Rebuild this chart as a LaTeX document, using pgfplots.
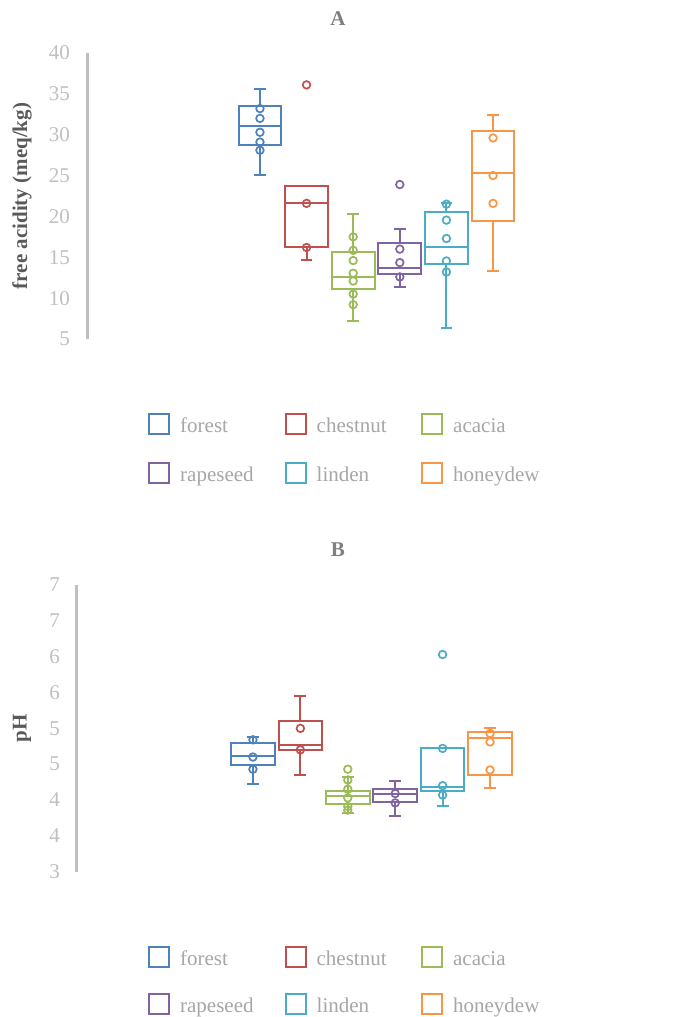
\documentclass[border=0pt]{standalone}
\usepackage{fontspec}
\setmainfont{Liberation Serif}
\usepackage{pgfplots}
\pgfplotsset{compat=1.18}
\usepgfplotslibrary{statistics}
\definecolor{c1}{HTML}{4F81BD}
\definecolor{c2}{HTML}{C0504D}
\definecolor{c3}{HTML}{9BBB59}
\definecolor{c4}{HTML}{8064A2}
\definecolor{c5}{HTML}{4BACC6}
\definecolor{c6}{HTML}{F79646}
\definecolor{tickgray}{HTML}{BFBFBF}
\definecolor{leggray}{HTML}{A6A6A6}
\definecolor{labgray}{HTML}{595959}
\definecolor{titlegray}{HTML}{7F7F7F}
\newcommand{\lt}[1]{\makebox[104.5pt][l]{\rule{0pt}{19pt}\smash{#1}}}
\pgfplotsset{
  mybox/.style n args={6}{boxplot prepared={draw position=#1, lower whisker=#2, lower quartile=#3, median=#4, upper quartile=#5, upper whisker=#6, box extend=0.92, whisker extend=0.25, every box/.style={line width=2pt}, every whisker/.style={line width=2pt}, every median/.style={line width=2pt}}, line width=2pt, solid, fill=none, forget plot},
  mypts/.style={only marks, mark=o, mark size=3.8pt, line width=1.7pt, mark options={line width=1.7pt, solid}, forget plot},
  myaxis/.style={scale only axis, axis x line=none, axis y line*=left,
    boxplot/draw direction=y,
    y axis line style={draw=tickgray, line width=3pt, -},
    ytick style={draw=none},
    yticklabel style={text=tickgray, anchor=east, inner sep=0pt, xshift=-17pt},
    xmin=-2.71, xmax=9.71, xtick=\empty, clip=false,
    /pgf/number format/assume math mode=true,
    title style={anchor=center, text=titlegray, font=\bfseries},
    ylabel style={anchor=center, font=\bfseries, text=labgray},
    legend image code/.code={\draw[##1, fill=none, line width=2pt] (0pt,-10pt) rectangle (20pt,10pt);},
    legend cell align=left,
    legend style={draw=none, fill=none, legend columns=3, inner sep=0pt,
      nodes={inner sep=0pt, text=leggray, anchor=west},
      /tikz/every odd column/.append style={column sep=10pt}},
  }
}
\begin{document}
\fontsize{21}{25}\selectfont
\begin{tikzpicture}
\useasboundingbox (0,0) rectangle (696pt,-1017pt);
% ---------------- A ----------------
\begin{axis}[myaxis, at={(87pt,-339pt)}, anchor=south west, width=579pt, height=286pt,
  ymin=5, ymax=40, ytick={5,10,...,40},
  title={A}, title style={at={(axis description cs:0.4335,1.101)}},
  ylabel={free acidity (meq/kg)}, ylabel style={at={(axis description cs:-0.1123,0.5)}},
  legend style={at={(axis description cs:0.1054,-0.2587)}, anchor=north west, row sep=27pt}]
\addlegendimage{c1}\addlegendentry{\lt{forest}}
\addlegendimage{c2}\addlegendentry{\lt{chestnut}}
\addlegendimage{c3}\addlegendentry{\lt{acacia}}
\addlegendimage{c4}\addlegendentry{\lt{rapeseed}}
\addlegendimage{c5}\addlegendentry{\lt{linden}}
\addlegendimage{c6}\addlegendentry{\lt{honeydew}}
\addplot[c1, mybox={1}{25.1}{28.7}{31.1}{33.5}{35.6}] coordinates {};
\addplot[c1, mypts] coordinates {(1,33.2) (1,32.0) (1,30.3) (1,29.1) (1,28.1)};
\addplot[c2, mybox={2}{14.7}{16.2}{21.6}{23.7}{23.7}] coordinates {};
\addplot[c2, mypts] coordinates {(2,21.6) (2,16.2) (2,36.1)};
\addplot[c3, mybox={3}{7.2}{11.1}{12.6}{15.7}{20.3}] coordinates {};
\addplot[c3, mypts] coordinates {(3,17.5) (3,15.85) (3,14.6) (3,13.05) (3,12.1) (3,10.5) (3,9.2)};
\addplot[c4, mybox={4}{11.4}{13.0}{13.7}{16.7}{18.5}] coordinates {};
\addplot[c4, mypts] coordinates {(4,16.0) (4,14.35) (4,12.6) (4,23.9)};
\addplot[c5, mybox={5}{6.4}{14.2}{16.2}{20.6}{21.7}] coordinates {};
\addplot[c5, mypts] coordinates {(5,21.5) (5,19.55) (5,17.3) (5,14.55) (5,13.2)};
\addplot[c6, mybox={6}{13.3}{19.5}{25.3}{30.4}{32.4}] coordinates {};
\addplot[c6, mypts] coordinates {(6,29.6) (6,25.0) (6,21.6)};
\end{axis}
% ---------------- B ----------------
\begin{axis}[myaxis, at={(77pt,-871.7pt)}, anchor=south west, width=589pt, height=286.7pt,
  ymin=3, ymax=7, ytick={3,3.5,...,7}, yticklabels={3,4,4,5,5,6,6,7,7},
  title={B}, title style={at={(axis description cs:0.443,1.101)}},
  ylabel={pH}, ylabel style={at={(axis description cs:-0.0934,0.5)}},
  legend style={at={(axis description cs:0.1205,-0.2592)}, anchor=north west, row sep=25pt}]
\addlegendimage{c1}\addlegendentry{\lt{forest}}
\addlegendimage{c2}\addlegendentry{\lt{chestnut}}
\addlegendimage{c3}\addlegendentry{\lt{acacia}}
\addlegendimage{c4}\addlegendentry{\lt{rapeseed}}
\addlegendimage{c5}\addlegendentry{\lt{linden}}
\addlegendimage{c6}\addlegendentry{\lt{honeydew}}
\addplot[c1, mybox={1}{4.23}{4.49}{4.61}{4.79}{4.88}] coordinates {};
\addplot[c1, mypts] coordinates {(1,4.84) (1,4.60) (1,4.43)};
\addplot[c2, mybox={2}{4.35}{4.70}{4.77}{5.10}{5.45}] coordinates {};
\addplot[c2, mypts] coordinates {(2,5.0) (2,4.70)};
\addplot[c3, mybox={3}{3.82}{3.95}{4.06}{4.13}{4.32}] coordinates {};
\addplot[c3, mypts] coordinates {(3,4.43) (3,4.28) (3,4.15) (3,4.03) (3,3.91) (3,3.86)};
\addplot[c4, mybox={4}{3.78}{3.97}{4.09}{4.15}{4.27}] coordinates {};
\addplot[c4, mypts] coordinates {(4,4.09) (4,3.96)};
\addplot[c5, mybox={5}{3.92}{4.12}{4.18}{4.72}{4.72}] coordinates {};
\addplot[c5, mypts] coordinates {(5,4.72) (5,4.20) (5,4.07) (5,6.03)};
\addplot[c6, mybox={6}{4.17}{4.35}{4.86}{4.95}{5.01}] coordinates {};
\addplot[c6, mypts] coordinates {(6,4.93) (6,4.81) (6,4.42)};
\end{axis}
\end{tikzpicture}
\end{document}
